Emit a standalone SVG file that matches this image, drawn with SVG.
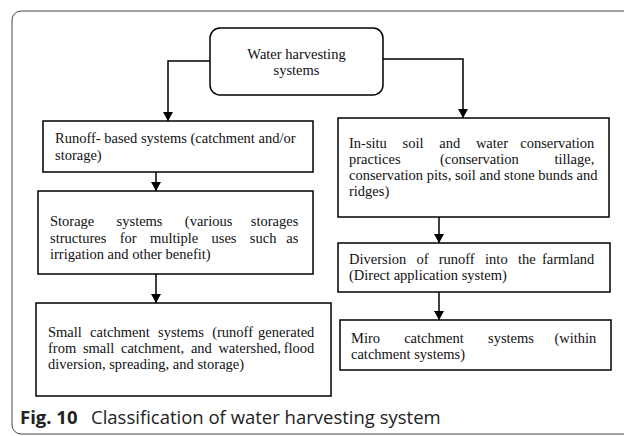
<svg xmlns="http://www.w3.org/2000/svg" width="624" height="436" viewBox="0 0 624 436">
<defs>
<marker id="ah" markerUnits="userSpaceOnUse" markerWidth="9" markerHeight="10" refX="9" refY="5" orient="auto">
<path d="M0,0 L9,5 L0,10 z" fill="#000"/>
</marker>
<style>
.box{fill:#fff;stroke:#000;stroke-width:1.5}
.t{font-family:"Liberation Serif","Times New Roman",serif;font-size:14.5px;fill:#111}
.c{fill:none;stroke:#000;stroke-width:1.5}
.cap{font-family:"Open Sans","Noto Sans",sans-serif;font-size:18.5px;fill:#222}
</style>
</defs>
<rect x="12" y="11" width="700" height="423" rx="9" fill="none" stroke="#444" stroke-width="1"/>
<g id="connectors">
<path class="c" d="M210,61 H168 V121" marker-end="url(#ah)"/>
<path class="c" d="M383,59 H463 V118" marker-end="url(#ah)"/>
<path class="c" d="M156,172 V191" marker-end="url(#ah)"/>
<path class="c" d="M156,274 V303" marker-end="url(#ah)"/>
<path class="c" d="M439,217 V243" marker-end="url(#ah)"/>
<path class="c" d="M439,292 V320" marker-end="url(#ah)"/>
</g>
<g id="root">
<rect class="box" x="210" y="28" width="173" height="67" rx="10"/>
<text class="t" text-anchor="middle"><tspan x="296.5" y="59">Water harvesting</tspan><tspan x="296.5" y="75">systems</tspan></text>
</g>
<g id="runoff">
<rect class="box" x="43" y="121" width="270" height="51"/>
<text class="t"><tspan x="55" y="143">Runoff- based systems (catchment and/or</tspan><tspan x="55" y="160">storage)</tspan></text>
</g>
<g id="storage">
<rect class="box" x="38" y="191" width="275" height="83"/>
<text class="t">
<tspan x="50" y="226">Storage</tspan><tspan x="116.6" y="226">systems</tspan><tspan x="184.8" y="226">(various</tspan><tspan x="302" y="226" text-anchor="end">storages</tspan>
<tspan x="50" y="243">structures</tspan><tspan x="119.7" y="243">for</tspan><tspan x="149.9" y="243">multiple</tspan><tspan x="211.5" y="243">uses</tspan><tspan x="249.8" y="243">such</tspan><tspan x="302" y="243" text-anchor="end">as</tspan>
<tspan x="50" y="259">irrigation and other benefit)</tspan>
</text>
</g>
<g id="small">
<rect class="box" x="36" y="303" width="295" height="93"/>
<text class="t">
<tspan x="48" y="337">Small</tspan><tspan x="90.1" y="337">catchment</tspan><tspan x="158" y="337">systems</tspan><tspan x="212.2" y="337">(runoff</tspan><tspan x="318" y="337" text-anchor="end">generated</tspan>
<tspan x="48" y="353">from</tspan><tspan x="82.9" y="353">small</tspan><tspan x="121" y="353">catchment,</tspan><tspan x="190.9" y="353">and</tspan><tspan x="218.4" y="353">watershed,</tspan><tspan x="318" y="353" text-anchor="end">flood</tspan>
<tspan x="48" y="369">diversion, spreading, and storage)</tspan>
</text>
</g>
<g id="insitu">
<rect class="box" x="338" y="118" width="271" height="99"/>
<text class="t">
<tspan x="349" y="148">In-situ</tspan><tspan x="402.6" y="148">soil</tspan><tspan x="439.3" y="148">and</tspan><tspan x="475.9" y="148">water</tspan><tspan x="598" y="148" text-anchor="end">conservation</tspan>
<tspan x="349" y="164">practices</tspan><tspan x="439.9" y="164">(conservation</tspan><tspan x="598" y="164" text-anchor="end">tillage,</tspan>
<tspan x="349" y="180">conservation pits, soil and stone bunds and</tspan>
<tspan x="349" y="196">ridges)</tspan>
</text>
</g>
<g id="diversion">
<rect class="box" x="338" y="243" width="272" height="49"/>
<text class="t">
<tspan x="349" y="264">Diversion</tspan><tspan x="416.4" y="264">of</tspan><tspan x="438.7" y="264">runoff</tspan><tspan x="485.1" y="264">into</tspan><tspan x="517.9" y="264">the</tspan><tspan x="598" y="264" text-anchor="end">farmland</tspan>
<tspan x="349" y="280">(Direct application system)</tspan>
</text>
</g>
<g id="miro">
<rect class="box" x="340" y="320" width="271" height="50"/>
<text class="t">
<tspan x="351" y="343">Miro</tspan><tspan x="404.2" y="343">catchment</tspan><tspan x="488" y="343">systems</tspan><tspan x="600" y="343" text-anchor="end">(within</tspan>
<tspan x="351" y="359">catchment systems)</tspan>
</text>
</g>
<text class="cap" y="424"><tspan x="20" font-weight="bold">Fig. 10</tspan><tspan x="91">Classification of water harvesting system</tspan></text>
</svg>
